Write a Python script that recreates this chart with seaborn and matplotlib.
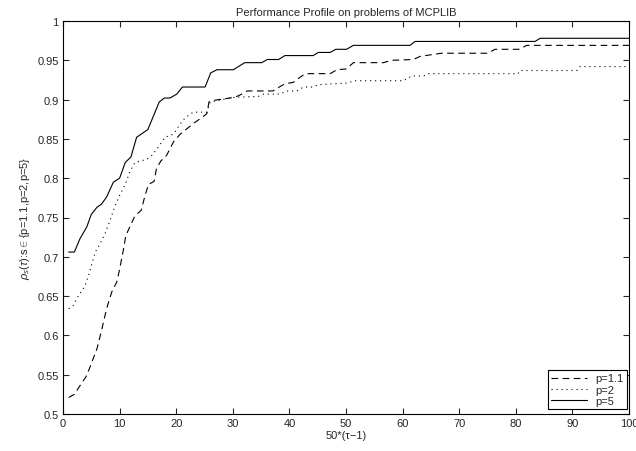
import numpy as np
import pandas as pd
import matplotlib
matplotlib.use('Agg')
import matplotlib.pyplot as plt
import seaborn as sns

sns.set_style('ticks')
plt.rcParams['font.family'] = ['Liberation Sans', 'DejaVu Sans']
plt.rcParams['mathtext.fontset'] = 'custom'
plt.rcParams['mathtext.rm'] = 'Liberation Sans'
plt.rcParams['mathtext.it'] = 'Liberation Sans:italic'

# breakpoints, x = 50*(tau-1)
x_p11 = [1, 2, 3, 4.2, 5.1, 6, 6.8, 7.7, 8.6, 9.5, 10, 10.7, 11.1, 11.8, 12.7, 13.8, 14.5,
         15.1, 16.1, 16.5, 17.3, 18.3, 19.5, 20.7, 21.9, 23.3, 24.5, 25.4, 25.8, 26.6, 30.4,
         31.6, 32.5, 37.1, 38.2, 39.2, 40.7, 41.8, 42.8, 47.2, 48.4, 50.1, 51.3, 56.6, 58.1,
         61.9, 63.1, 66.9, 75.1, 76.3, 80.7, 81.9, 100]
y_p11 = [0.521, 0.525, 0.536, 0.549, 0.566, 0.583, 0.606, 0.634, 0.655, 0.668, 0.684, 0.710,
         0.727, 0.738, 0.752, 0.759, 0.778, 0.792, 0.796, 0.812, 0.822, 0.829, 0.846, 0.856,
         0.863, 0.871, 0.877, 0.882, 0.897, 0.899, 0.903, 0.907, 0.911, 0.911, 0.916, 0.920,
         0.922, 0.928, 0.933, 0.933, 0.938, 0.939, 0.947, 0.947, 0.950, 0.951, 0.955, 0.959,
         0.959, 0.964, 0.964, 0.969, 0.969]

x_p2 = [1, 1.8, 2.7, 3.9, 4.5, 5.1, 5.7, 6.5, 7.4, 8.3, 9.2, 10, 11, 11.8, 12.7, 14.8, 15.7,
        16.8, 18, 19.5, 20.7, 21.6, 23, 25.4, 26, 27.4, 30.4, 34.5, 35.4, 38.3, 39.5, 41.3,
        42.5, 44.2, 45.1, 50.1, 51.6, 60.1, 61.6, 63.7, 64.5, 80.4, 80.7, 90.8, 91.3, 100]
y_p2 = [0.634, 0.638, 0.650, 0.663, 0.676, 0.691, 0.706, 0.716, 0.729, 0.746, 0.765, 0.778,
        0.792, 0.808, 0.820, 0.824, 0.829, 0.839, 0.852, 0.856, 0.869, 0.877, 0.884, 0.884,
        0.897, 0.899, 0.903, 0.904, 0.907, 0.907, 0.911, 0.911, 0.916, 0.916, 0.919, 0.921,
        0.924, 0.924, 0.930, 0.930, 0.933, 0.933, 0.937, 0.937, 0.942, 0.942]

x_p5 = [1, 2, 3, 4.2, 5, 6, 6.8, 7.7, 8.9, 10, 11, 12, 13, 15, 17, 17.9, 18.9, 20.1, 21.1,
        25.1, 26.1, 27.2, 30.1, 32.1, 35.1, 36.1, 38.1, 39.2, 44.2, 45.1, 47.2, 48.2, 50.1,
        51.3, 61.3, 62.2, 83.4, 84.3, 100]
y_p5 = [0.706, 0.706, 0.723, 0.738, 0.754, 0.763, 0.767, 0.776, 0.795, 0.800, 0.820, 0.827,
        0.852, 0.862, 0.897, 0.902, 0.902, 0.907, 0.916, 0.916, 0.934, 0.938, 0.938, 0.947,
        0.947, 0.951, 0.951, 0.956, 0.956, 0.960, 0.960, 0.964, 0.964, 0.969, 0.969, 0.974,
        0.974, 0.978, 0.978]

labels = ['p=1.1', 'p=2', 'p=5']

df = pd.concat([
    pd.DataFrame({'x': x_p11, 'y': y_p11, 'p': labels[0]}),
    pd.DataFrame({'x': x_p2, 'y': y_p2, 'p': labels[1]}),
    pd.DataFrame({'x': x_p5, 'y': y_p5, 'p': labels[2]}),
], ignore_index=True)

fig = plt.figure(figsize=(6.36, 4.52), dpi=100)
ax = fig.add_axes([63 / 636, 1 - 415 / 452, 566 / 636, 393 / 452])

sns.lineplot(data=df, x='x', y='y', hue='p', style='p', hue_order=labels, style_order=labels,
             palette=['black'] * 3, dashes=[(6, 4), (1, 3.5), ''], estimator=None, sort=False,
             linewidth=0.8, ax=ax)

ax.set_xlim(0, 100)
ax.set_ylim(0.5, 1)
ax.set_xticks(np.arange(0, 101, 10))
ax.set_yticks(np.arange(0.5, 1.001, 0.05))
ax.set_yticklabels(['0.5', '0.55', '0.6', '0.65', '0.7', '0.75', '0.8', '0.85', '0.9', '0.95', '1'])
ax.tick_params(direction='in', top=True, right=True, length=4, width=0.8, labelsize=8, pad=3)
for s in ax.spines.values():
    s.set_visible(True)
    s.set_linewidth(0.8)
    s.set_color('black')

ax.set_title('Performance Profile on problems of MCPLIB', fontsize=8, pad=4)
ax.set_xlabel('50*(\u03c4\u22121)', fontsize=8, labelpad=1)
ax.set_ylabel(r'$\rho_s(\tau)$:s$\in${p=1.1,p=2,p=5}', fontsize=8, labelpad=4)

leg = ax.legend(loc='lower right', bbox_to_anchor=(1 - 2 / 566, 5 / 393), fontsize=8,
                frameon=True, fancybox=False, edgecolor='black', framealpha=1,
                handlelength=3.2, borderaxespad=0, labelspacing=0.1, borderpad=0.3)
leg.get_frame().set_linewidth(0.8)

fig.savefig('out.png', dpi=100)
